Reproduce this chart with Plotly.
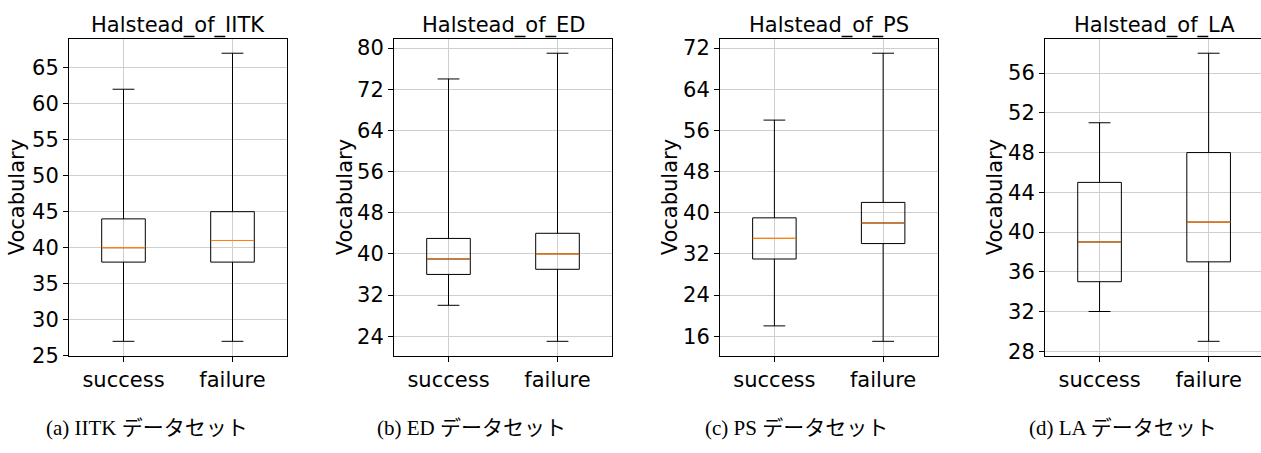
import plotly.graph_objects as go

W, H = 1261, 453

categories = ["success", "failure"]
titles = ["Halstead_of_IITK", "Halstead_of_ED", "Halstead_of_PS", "Halstead_of_LA"]
captions = ["(a) IITK データセット", "(b) ED データセット", "(c) PS データセット", "(d) LA データセット"]

# per-panel box statistics [success, failure]
lower = [[27, 27], [30, 23], [18, 15], [32, 29]]
q1 = [[38, 38], [36, 37], [31, 34], [35, 37]]
median = [[40, 41], [39, 40], [35, 38], [39, 41]]
q3 = [[44, 45], [43, 44], [39, 42], [45, 48]]
upper = [[62, 67], [74, 79], [58, 71], [51, 58]]

dticks = [5, 8, 8, 4]

# layout (pixels)
x_dom_px = [(69, 287), (394, 612), (720, 937.5), (1045, 1261)]
x_ranges = [[-0.5, 1.5], [-0.5, 1.5], [-0.5, 1.5], [-0.5, 1.48]]
y_top, y_bot = 38, 365
ytitle_x = [17, 345, 670, 995]
caption_x = [147, 471, 796, 1123]

FONT = "DejaVu Sans"
FS = 21
fig = go.Figure()
layout = dict(
    width=W, height=H, autosize=False, margin=dict(l=0, r=0, t=0, b=0, pad=0),
    paper_bgcolor="white", plot_bgcolor="white", showlegend=False,
    boxmode="overlay", font=dict(family=FONT, size=FS, color="black"),
)
annotations = []

for i in range(4):
    xa = "x" if i == 0 else f"x{i+1}"
    ya = "y" if i == 0 else f"y{i+1}"
    fig.add_trace(go.Box(
        x=categories, q1=q1[i], median=median[i], q3=q3[i],
        lowerfence=lower[i], upperfence=upper[i],
        boxpoints=False, width=0.4, whiskerwidth=0.5,
        line=dict(color="black", width=1), fillcolor="rgba(0,0,0,0)",
        xaxis=xa, yaxis=ya, hoverinfo="skip",
    ))
    # orange median line
    fig.add_trace(go.Box(
        x=categories, q1=median[i], median=median[i], q3=median[i],
        lowerfence=median[i], upperfence=median[i],
        boxpoints=False, width=0.4, whiskerwidth=0,
        line=dict(color="#ff7f0e", width=1.2), fillcolor="rgba(0,0,0,0)",
        xaxis=xa, yaxis=ya, hoverinfo="skip",
    ))
    lo = min(lower[i]); hi = max(upper[i]); pad = 0.05 * (hi - lo)
    x0, x1 = x_dom_px[i]
    xkey = "xaxis" if i == 0 else f"xaxis{i+1}"
    ykey = "yaxis" if i == 0 else f"yaxis{i+1}"
    layout[xkey] = dict(
        domain=[x0 / W, min(x1 / W, 1)], anchor=ya, type="category",
        range=x_ranges[i], showgrid=True, gridcolor="#cfcfcf", gridwidth=1,
        showline=True, linecolor="black", linewidth=1, mirror=True,
        ticks="outside", ticklen=5, tickcolor="black",
        tickfont=dict(family=FONT, size=FS), zeroline=False,
    )
    layout[ykey] = dict(
        domain=[(H - y_bot) / H, (H - y_top) / H], anchor=xa,
        range=[lo - pad, hi + pad], dtick=dticks[i], tick0=0,
        showgrid=True, gridcolor="#cfcfcf", gridwidth=1,
        showline=True, linecolor="black", linewidth=1, mirror=(i < 3),
        ticks="outside", ticklen=5, tickcolor="black",
        tickfont=dict(family=FONT, size=FS), zeroline=False,
    )
    annotations.append(dict(
        text=titles[i], x=(x0 + x0 + 218) / 2 / W,
        y=(H - 24) / H, xref="paper", yref="paper",
        showarrow=False, font=dict(family=FONT, size=FS), xanchor="center", yanchor="middle",
    ))
    annotations.append(dict(
        text="Vocabulary", x=ytitle_x[i] / W, y=(H - (y_top + y_bot) / 2) / H,
        xref="paper", yref="paper", textangle=-90, showarrow=False,
        font=dict(family=FONT, size=FS), xanchor="center", yanchor="middle",
    ))
    annotations.append(dict(
        text=captions[i], x=caption_x[i] / W, y=(H - 440) / H,
        xref="paper", yref="paper", showarrow=False,
        font=dict(family="Liberation Serif, Noto Sans CJK JP", size=21),
        xanchor="center", yanchor="middle",
    ))

layout["annotations"] = annotations
fig.update_layout(**layout)

fig.write_html(
    "out.html",
    config={"responsive": False, "displayModeBar": False},
    post_script="document.body.style.margin='0';document.body.style.overflow='hidden';",
)
